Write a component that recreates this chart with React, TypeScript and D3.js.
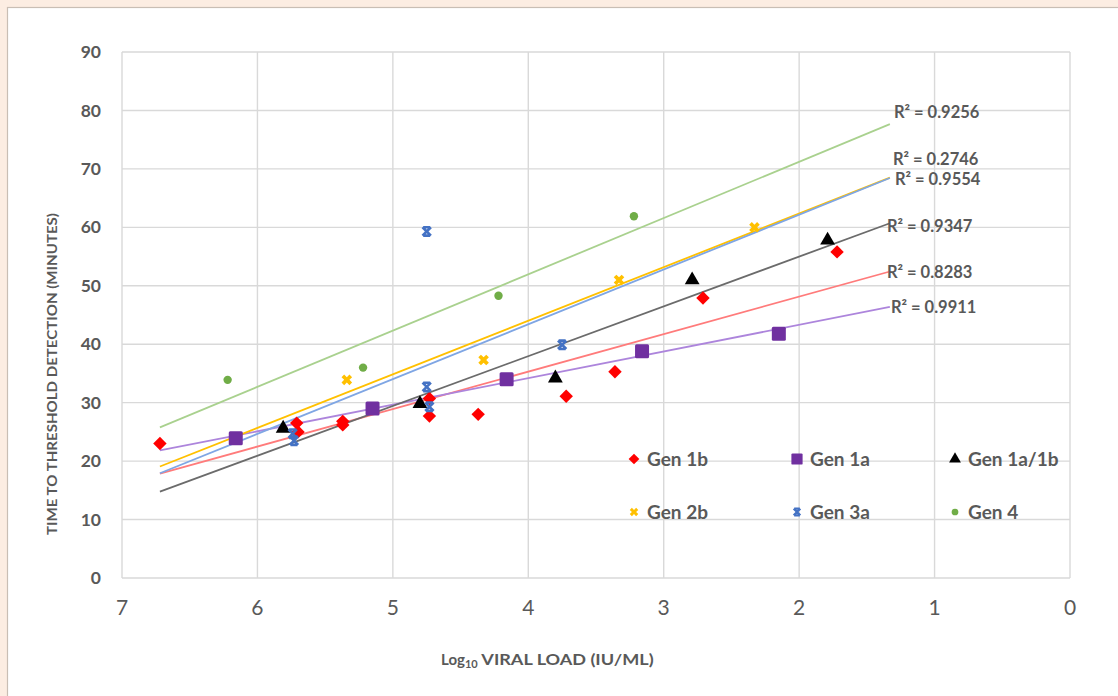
import React from 'react';
import * as d3 from 'd3';

// log10 viral load (x) vs minutes to threshold detection (y), one pair of arrays per genotype
const gen1bX = [6.72, 5.71, 5.70, 5.37, 5.37, 4.73, 4.73, 4.37, 3.72, 3.36, 2.71, 1.72];
const gen1bY = [23.0, 26.5, 25.0, 26.8, 26.2, 30.7, 27.7, 28.0, 31.1, 35.3, 47.9, 55.8];

const gen1aX = [6.16, 5.15, 4.16, 3.16, 2.15];
const gen1aY = [23.9, 29.0, 34.0, 38.8, 41.8];

const gen1a1bX = [5.81, 4.80, 3.80, 2.79, 1.79];
const gen1a1bY = [25.6, 29.8, 34.2, 51.0, 57.8];

const gen2bX = [5.34, 4.33, 3.33, 2.33];
const gen2bY = [33.9, 37.3, 51.0, 60.0];

const gen3aX = [5.74, 5.73, 4.75, 4.75, 4.73, 3.75];
const gen3aY = [24.7, 23.5, 59.3, 32.7, 29.3, 39.9];

const gen4X = [6.22, 5.22, 4.22, 3.22];
const gen4Y = [33.9, 36.0, 48.3, 61.9];

const seriesNames = ['Gen 1b', 'Gen 1a', 'Gen 1a/1b', 'Gen 2b', 'Gen 3a', 'Gen 4'];
const r2Labels = ['0.8283', '0.9911', '0.9347', '0.9554', '0.2746', '0.9256'];

const xTicks = [7, 6, 5, 4, 3, 2, 1, 0];
const yTicks = [0, 10, 20, 30, 40, 50, 60, 70, 80, 90];
const trendFrom = 6.72;
const trendTo = 1.33;

const W = 1118;
const H = 696;
const grey = '#595959';
const narrow = '"Liberation Sans Narrow", Lato, sans-serif';

type Marker = 'diamond' | 'square' | 'triangle' | 'cross' | 'star' | 'circle';

const styles: { color: string; line: string; marker: Marker; lx: number; ly: number }[] = [
  { color: '#ff0000', line: '#ff7b7b', marker: 'diamond', lx: -3, ly: 1 },
  { color: '#7030a0', line: '#ad85dc', marker: 'square', lx: 1, ly: 0 },
  { color: '#000000', line: '#6b6b6b', marker: 'triangle', lx: -3, ly: 3 },
  { color: '#ffc000', line: '#ffc000', marker: 'cross', lx: 5, ly: 2 },
  { color: '#4472c4', line: '#7fa6e4', marker: 'star', lx: 3, ly: -19 },
  { color: '#70ad47', line: '#a9d18e', marker: 'circle', lx: 4, ly: -12 },
];

const xsAll = [gen1bX, gen1aX, gen1a1bX, gen2bX, gen3aX, gen4X];
const ysAll = [gen1bY, gen1aY, gen1a1bY, gen2bY, gen3aY, gen4Y];

const series = seriesNames.map((name, i) => ({
  name,
  r2: r2Labels[i],
  points: xsAll[i].map((x, j) => ({ x, y: ysAll[i][j] })),
  ...styles[i],
}));

// least squares fit, like Excel's linear trendline
function fit(pts: { x: number; y: number }[]) {
  const mx = d3.mean(pts, p => p.x)!;
  const my = d3.mean(pts, p => p.y)!;
  const sxy = d3.sum(pts, p => (p.x - mx) * (p.y - my));
  const sxx = d3.sum(pts, p => (p.x - mx) ** 2);
  const slope = sxy / sxx;
  return (x: number) => my + slope * (x - mx);
}

const x = d3.scaleLinear().domain([7, 0]).range([122, 1070]);
const y = d3.scaleLinear().domain([0, 90]).range([578, 52]);

function MarkerShape({ type, color, cx, cy, k = 1 }: { type: Marker; color: string; cx: number; cy: number; k?: number }) {
  const t = `translate(${cx},${cy}) scale(${k})`;
  if (type === 'diamond')
    return <path transform={`${t} rotate(45)`} d={d3.symbol(d3.symbolSquare, 90)()!} fill={color} />;
  if (type === 'square')
    return <rect transform={t} x={-7} y={-7} width={14} height={14} rx={1.5} fill={color} />;
  if (type === 'triangle')
    return <path transform={t} d={d3.symbol(d3.symbolTriangle, 95)()!} fill={color} />;
  if (type === 'cross')
    return <path transform={`${t} rotate(45)`} d={d3.symbol(d3.symbolCross, 70)()!} fill={color} />;
  if (type === 'star')
    return (
      <path
        transform={t}
        d="M-3.5,-4.2L3.5,-4.2M-3.5,4.2L3.5,4.2M-4.2,-4.2L4.2,4.2M4.2,-4.2L-4.2,4.2"
        stroke={color}
        strokeWidth={2.6}
        fill="none"
      />
    );
  return <circle transform={t} r={4.2} fill={color} />;
}

const legendCols = [634, 797, 955];
const legendRows = [459, 512];

export default function App() {
  return (
    <svg
      width={W}
      height={H}
      style={{ position: 'absolute', left: 0, top: 0, fontFamily: 'Lato, "Open Sans", sans-serif' }}
    >
      <rect x={0} y={0} width={W} height={H} fill="#fcede2" />
      <rect x={7.5} y={7.5} width={W} height={H} fill="#ffffff" stroke="#c9beb4" strokeWidth={1.2} />

      {/* gridlines */}
      <g stroke="#d9d9d9" strokeWidth={1.4}>
        {yTicks.map(t => (
          <line key={`h${t}`} x1={x(7)} x2={x(0)} y1={y(t)} y2={y(t)} />
        ))}
        {xTicks.map(t => (
          <line key={`v${t}`} x1={x(t)} x2={x(t)} y1={y(90)} y2={y(0)} />
        ))}
      </g>

      {/* axis labels */}
      <g fill={grey} fontWeight={700} fontSize={17.5} textAnchor="end">
        {yTicks.map(t => (
          <text key={t} x={101} y={y(t)} dy="0.35em">
            {t}
          </text>
        ))}
      </g>
      <g fill={grey} fontSize={21} textAnchor="middle" fontFamily={narrow}>
        {xTicks.map(t => (
          <text key={t} x={x(t)} y={608} dy="0.35em">
            {t}
          </text>
        ))}
      </g>
      <text
        transform={`translate(52,374) rotate(-90)`}
        textAnchor="middle"
        dy="0.35em"
        fill={grey}
        fontWeight={700}
        fontSize={14}
        fontFamily={narrow}
        textLength={322}
        lengthAdjust="spacingAndGlyphs"
      >
        TIME TO THRESHOLD DETECTION (MINUTES)
      </text>
      <text x={441} y={660} dy="0.35em" fill={grey} fontWeight={700} fontSize={15} fontFamily={narrow}>
        Log
        <tspan fontSize={11} dy="3">10</tspan>
        <tspan dy="-3" textLength={176} lengthAdjust="spacingAndGlyphs"> VIRAL LOAD (IU/ML)</tspan>
      </text>

      {/* trendlines */}
      {series.map(s => {
        const f = fit(s.points);
        const path = d3.line<number>().x(v => x(v)).y(v => y(f(v)))([trendFrom, trendTo])!;
        return <path key={`t${s.name}`} d={path} stroke={s.line} strokeWidth={1.8} fill="none" />;
      })}

      {/* points */}
      {series.map(s => (
        <g key={`p${s.name}`}>
          {s.points.map((p, j) => (
            <MarkerShape key={j} type={s.marker} color={s.color} cx={x(p.x)} cy={y(p.y)} />
          ))}
        </g>
      ))}

      {/* R² labels at the end of each trendline */}
      <g fill={grey} fontWeight={700} fontSize={16.5}>
        {series.map(s => {
          const f = fit(s.points);
          return (
            <text key={`r${s.name}`} x={x(trendTo) + s.lx} y={y(f(trendTo)) + s.ly} dy="0.35em">
              R² = {s.r2}
            </text>
          );
        })}
      </g>

      {/* legend */}
      {series.map((s, i) => {
        const lx = legendCols[i % 3];
        const ly = legendRows[Math.floor(i / 3)];
        return (
          <g key={`l${s.name}`}>
            <MarkerShape type={s.marker} color={s.color} cx={lx} cy={ly} k={0.8} />
            <text x={lx + 13} y={ly} dy="0.35em" fill={grey} fontWeight={700} fontSize={19}>
              {s.name}
            </text>
          </g>
        );
      })}
    </svg>
  );
}
